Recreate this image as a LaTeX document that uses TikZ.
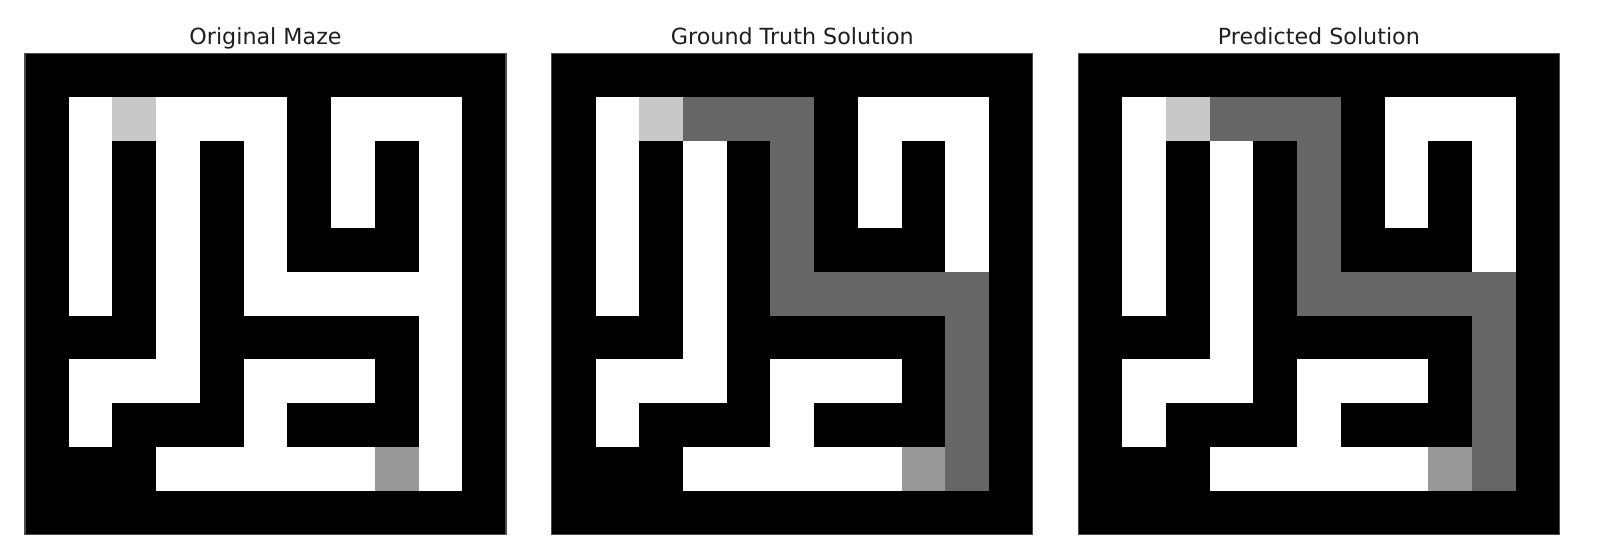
\documentclass[tikz,border=0pt]{standalone}
\usepackage{fontspec}
\setmainfont{DejaVu Sans}
\definecolor{startc}{HTML}{C8C8C8}
\definecolor{endc}{HTML}{999999}
\definecolor{pathc}{HTML}{666666}
\tikzset{
  title/.style={font=\fontsize{16pt}{19pt}\selectfont, text=black!88, anchor=base, inner sep=0pt},
  opencell/.style={fill=white},
  startcell/.style={fill=startc},
  endcell/.style={fill=endc},
  pathcell/.style={fill=pathc}
}
\newcommand{\cellsz}{43.727}
\newcommand{\mazeopen}{1/1,2/1,3/1,4/1,5/1,7/1,8/1,9/1,
  1/2,3/2,5/2,7/2,9/2,
  1/3,3/3,5/3,7/3,9/3,
  1/4,3/4,5/4,9/4,
  1/5,3/5,5/5,6/5,7/5,8/5,9/5,
  3/6,9/6,
  1/7,2/7,3/7,5/7,6/7,7/7,9/7,
  1/8,5/8,9/8,
  3/9,4/9,5/9,6/9,7/9,8/9,9/9}
\newcommand{\mazepath}{3/1,4/1,5/1,5/2,5/3,5/4,5/5,6/5,7/5,8/5,9/5,9/6,9/7,9/8,9/9}
% #1 = x offset, #2 = show path (1/0)
\newcommand{\drawmaze}[2]{%
  \begin{scope}[shift={(#1,53.3)}]
    \fill[black] (0,0) rectangle (481,481);
    \foreach \c/\r in \mazeopen {
      \fill[opencell] (\c*\cellsz,\r*\cellsz) rectangle ++(\cellsz,\cellsz);
    }
    \ifnum#2=1
      \foreach \c/\r in \mazepath {
        \fill[pathcell] (\c*\cellsz,\r*\cellsz) rectangle ++(\cellsz,\cellsz);
      }
    \fi
    \fill[startcell] (2*\cellsz,1*\cellsz) rectangle ++(\cellsz,\cellsz);
    \fill[endcell] (8*\cellsz,9*\cellsz) rectangle ++(\cellsz,\cellsz);
    \draw[black!70, line width=0.8pt] (0,0) rectangle (481,481);
  \end{scope}%
}
\begin{document}
\begin{tikzpicture}[x=0.72pt, y=-0.72pt]
  \useasboundingbox (0,0) rectangle (1610,556);
  \drawmaze{25}{0}
  \drawmaze{551.8}{1}
  \drawmaze{1078.4}{1}
  \node[title] (t1) at (265.5,44.5) {Original Maze};
  \node[title] (t2) at (792.3,44.5) {Ground Truth Solution};
  \node[title] (t3) at (1318.9,44.5) {Predicted Solution};
\end{tikzpicture}
\end{document}
